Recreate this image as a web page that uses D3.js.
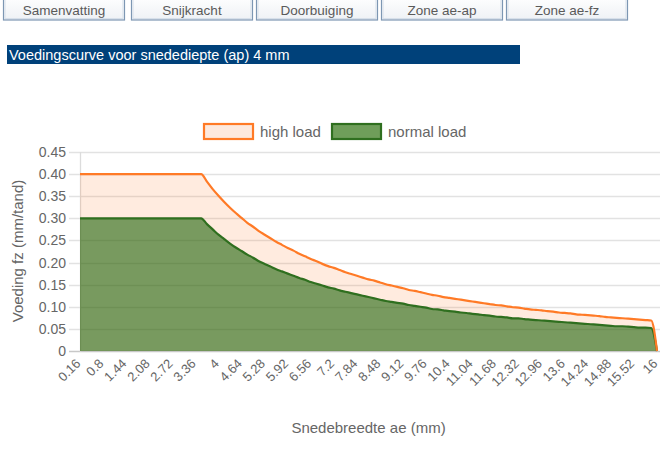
<!DOCTYPE html>
<html>
<head>
<meta charset="utf-8">
<script src="https://cdn.jsdelivr.net/npm/d3@7"></script>
<style>
  html, body { margin: 0; padding: 0; background: #fff; }
  svg { display: block; font-family: "Liberation Sans", Arial, Helvetica, sans-serif; }
</style>
</head>
<body>
<svg id="page" width="669" height="450"></svg>
<script>
// Navigation tabs above the chart
const tabs = ["Samenvatting", "Snijkracht", "Doorbuiging", "Zone ae-ap", "Zone ae-fz"];
const title = "Voedingscurve voor snedediepte (ap) 4 mm";

// Cutting width ae (mm) – category labels of the x axis
const categories = [
  "0.16","0.32","0.48","0.64","0.8","0.96","1.12","1.28","1.44","1.6",
  "1.76","1.92","2.08","2.24","2.4","2.56","2.72","2.88","3.04","3.2",
  "3.36","3.52","3.68","3.84","4","4.16","4.32","4.48","4.64","4.8",
  "4.96","5.12","5.28","5.44","5.6","5.76","5.92","6.08","6.24","6.4",
  "6.56","6.72","6.88","7.04","7.2","7.36","7.52","7.68","7.84","8",
  "8.16","8.32","8.48","8.64","8.8","8.96","9.12","9.28","9.44","9.6",
  "9.76","9.92","10.08","10.24","10.4","10.56","10.72","10.88","11.04","11.2",
  "11.36","11.52","11.68","11.84","12","12.16","12.32","12.48","12.64","12.8",
  "12.96","13.12","13.28","13.44","13.6","13.76","13.92","14.08","14.24","14.4",
  "14.56","14.72","14.88","15.04","15.2","15.36","15.52","15.68","15.84","16",
  "16"
];

// Feed per tooth fz (mm/tand), high load
const highLoad = [
  0.400,0.400,0.400,0.400,0.400,0.400,0.400,0.400,0.400,0.400,
  0.400,0.400,0.400,0.400,0.400,0.400,0.400,0.400,0.400,0.400,
  0.400,0.400,0.383,0.366,0.351,0.337,0.324,0.312,0.301,0.290,
  0.281,0.271,0.263,0.255,0.247,0.240,0.233,0.227,0.220,0.214,
  0.208,0.203,0.197,0.192,0.188,0.183,0.178,0.174,0.170,0.166,
  0.162,0.159,0.155,0.151,0.148,0.145,0.142,0.138,0.136,0.133,
  0.130,0.127,0.125,0.122,0.120,0.118,0.116,0.114,0.112,0.110,
  0.108,0.106,0.104,0.103,0.101,0.099,0.098,0.096,0.094,0.093,
  0.092,0.090,0.089,0.087,0.086,0.085,0.083,0.082,0.081,0.080,
  0.079,0.077,0.076,0.075,0.074,0.073,0.072,0.071,0.070,0.069,
  0
];

// Feed per tooth fz (mm/tand), normal load
const normalLoad = [
  0.300,0.300,0.300,0.300,0.300,0.300,0.300,0.300,0.300,0.300,
  0.300,0.300,0.300,0.300,0.300,0.300,0.300,0.300,0.300,0.300,
  0.300,0.300,0.287,0.275,0.263,0.253,0.243,0.234,0.226,0.218,
  0.211,0.203,0.197,0.191,0.185,0.180,0.175,0.170,0.165,0.161,
  0.156,0.152,0.148,0.144,0.141,0.137,0.134,0.131,0.128,0.125,
  0.122,0.119,0.116,0.113,0.111,0.109,0.107,0.104,0.102,0.100,
  0.098,0.095,0.094,0.092,0.090,0.089,0.087,0.086,0.084,0.083,
  0.081,0.080,0.078,0.077,0.076,0.074,0.074,0.072,0.071,0.070,
  0.069,0.068,0.067,0.066,0.065,0.064,0.063,0.062,0.061,0.060,
  0.059,0.058,0.057,0.056,0.056,0.055,0.054,0.053,0.053,0.052,
  0
];

const yTicks = [0, 0.05, 0.10, 0.15, 0.20, 0.25, 0.30, 0.35, 0.40, 0.45];
const xTickIdx = d3.range(0, 97, 4).concat([categories.length - 1]);

const series = [
  { name: "high load",   values: highLoad,   stroke: "#ff7a26", fill: "rgba(255,122,38,0.15)", legendFill: "#fde9de" },
  { name: "normal load", values: normalLoad, stroke: "#2f6f1f", fill: "rgba(30,100,10,0.6)",  legendFill: "#6f9e5a" }
];

const svg = d3.select("#page");

// ---- tab buttons ----
const tabX = [3, 131, 256, 381, 506];
const tabW = 121;
const defs = svg.append("defs");
const grad = defs.append("linearGradient").attr("id", "btnGrad").attr("x1", 0).attr("y1", 0).attr("x2", 0).attr("y2", 1);
grad.append("stop").attr("offset", "0%").attr("stop-color", "#ffffff");
grad.append("stop").attr("offset", "100%").attr("stop-color", "#eef1f5");

const btn = svg.append("g").selectAll("g").data(tabs).join("g")
  .attr("transform", (d, i) => `translate(${tabX[i]},-4)`);
btn.append("rect").attr("x", 0.5).attr("y", 0.5).attr("width", tabW).attr("height", 23.5)
  .attr("fill", "url(#btnGrad)").attr("stroke", "#7d97b3").attr("stroke-width", 1.2);
btn.append("rect").attr("x", 2).attr("y", 2).attr("width", tabW - 3).attr("height", 20.5)
  .attr("fill", "none").attr("stroke", "#d7e0ea").attr("stroke-width", 1);
btn.append("text").attr("x", tabW / 2 + 0.5).attr("y", 19)
  .attr("text-anchor", "middle").attr("font-size", 13.5).attr("fill", "#5a5a5a")
  .text(d => d);

// ---- title bar ----
svg.append("rect").attr("x", 7).attr("y", 45).attr("width", 513).attr("height", 19).attr("fill", "#00417a");
svg.append("text").attr("x", 9).attr("y", 60).attr("font-size", 14.5).attr("fill", "#fff")
  .text(title);

// ---- chart ----
const plotL = 80, plotR = 657, plotT = 152, plotB = 351;
const x = d3.scalePoint().domain(d3.range(categories.length)).range([plotL, plotR]);
const y = d3.scaleLinear().domain([0, 0.45]).range([plotB, plotT]);

// horizontal grid lines with tick marks
const grid = svg.append("g");
grid.selectAll("line").data(yTicks).join("line")
  .attr("x1", plotL - 11).attr("x2", 660)
  .attr("y1", d => Math.round(y(d)) + 0.5).attr("y2", d => Math.round(y(d)) + 0.5)
  .attr("stroke", d => d === 0 ? "#c8c8c8" : "#e2e2e2").attr("stroke-width", 1.3);
// vertical axis line
svg.append("line").attr("x1", plotL + 0.5).attr("x2", plotL + 0.5)
  .attr("y1", plotT).attr("y2", plotB + 0.5).attr("stroke", "#dcdcdc").attr("stroke-width", 1.3);

// y tick labels
svg.append("g").selectAll("text").data(yTicks).join("text")
  .attr("x", 66).attr("y", d => y(d)).attr("dy", "0.36em")
  .attr("text-anchor", "end").attr("font-size", 14).attr("fill", "#666")
  .text(d => d === 0 ? "0" : d.toFixed(2));

// areas and lines
const area = vals => d3.area()
  .x((d, i) => x(i)).y0(y(0)).y1(d => y(d))
  .curve(d3.curveMonotoneX)(vals);
const line = vals => d3.line()
  .x((d, i) => x(i)).y(d => y(d))
  .curve(d3.curveMonotoneX)(vals);

const plot = svg.append("g");
series.forEach(s => {
  plot.append("path").attr("d", area(s.values)).attr("fill", s.fill);
});
// outlines on top, normal load first so the high load line stays visible at the end
[series[1], series[0]].forEach(s => {
  plot.append("path").attr("d", line(s.values)).attr("fill", "none")
    .attr("stroke", s.stroke).attr("stroke-width", 2.2).attr("stroke-linejoin", "round");
});

// x tick labels, rotated
svg.append("g").selectAll("text").data(xTickIdx).join("text")
  .attr("transform", i => `translate(${x(i) - 2},${plotB + 10}) rotate(-45)`)
  .attr("text-anchor", "end").attr("dy", "0.36em")
  .attr("font-size", 13).attr("fill", "#666")
  .text(i => categories[i]);

// axis titles
svg.append("text").attr("x", (plotL + plotR) / 2).attr("y", 433)
  .attr("text-anchor", "middle").attr("font-size", 15).attr("fill", "#666")
  .text("Snedebreedte ae (mm)");
svg.append("text").attr("transform", `translate(23,251) rotate(-90)`)
  .attr("text-anchor", "middle").attr("font-size", 15).attr("fill", "#666")
  .text("Voeding fz (mm/tand)");

// legend
const legX = [204, 332];
const leg = svg.append("g").selectAll("g").data(series).join("g")
  .attr("transform", (d, i) => `translate(${legX[i]},124)`);
leg.append("rect").attr("x", 0).attr("y", 0).attr("width", 49).attr("height", 15)
  .attr("fill", d => d.legendFill).attr("stroke", d => d.stroke).attr("stroke-width", 2.2);
leg.append("text").attr("x", 56).attr("y", 7.5).attr("dy", "0.36em")
  .attr("font-size", 15).attr("fill", "#666").text(d => d.name);
</script>
</body>
</html>
